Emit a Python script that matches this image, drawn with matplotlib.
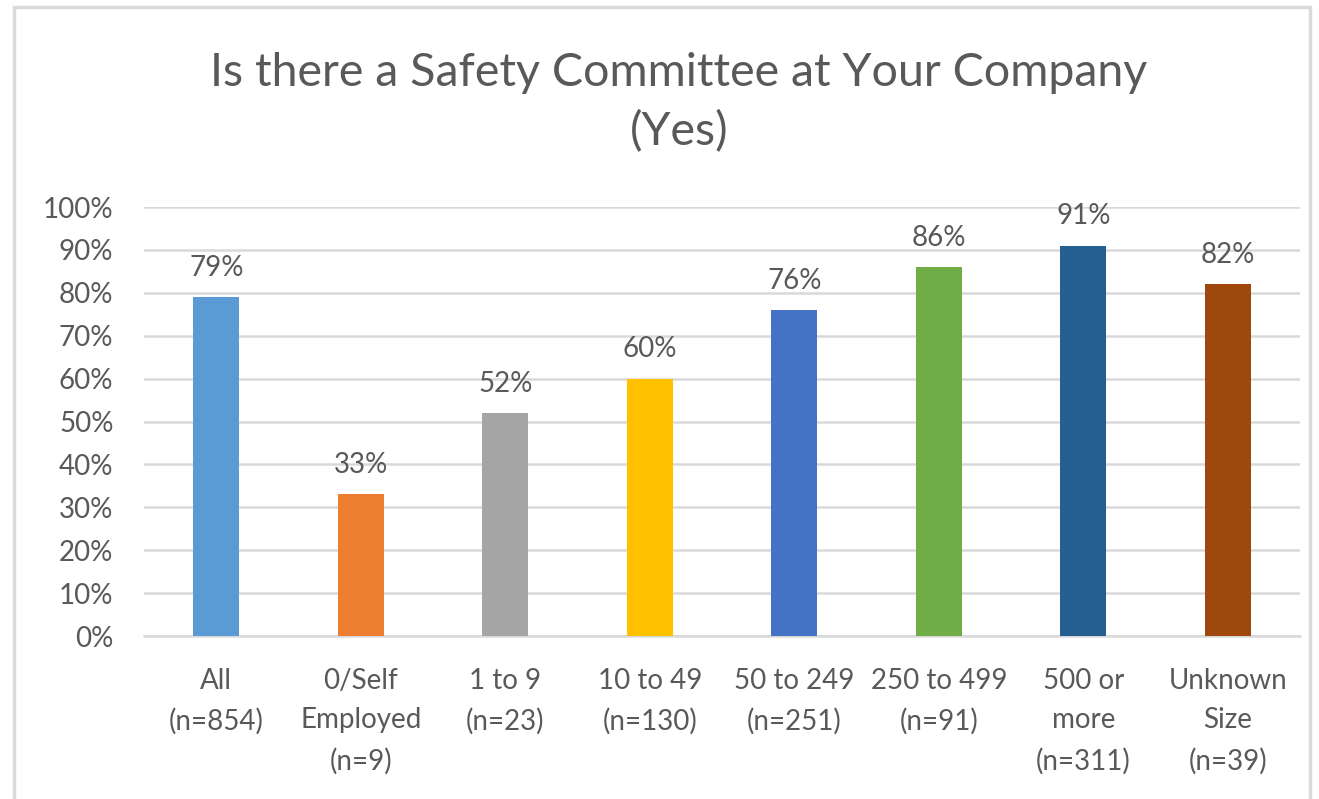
import matplotlib.pyplot as plt
from matplotlib.patches import Rectangle
from matplotlib.ticker import PercentFormatter

categories = ["All\n(n=854)", "0/Self\nEmployed\n(n=9)", "1 to 9\n(n=23)", "10 to 49\n(n=130)",
              "50 to 249\n(n=251)", "250 to 499\n(n=91)", "500 or\nmore\n(n=311)", "Unknown\nSize\n(n=39)"]
values = [79, 33, 52, 60, 76, 86, 91, 82]
colors = ["#5B9BD5", "#ED7D31", "#A5A5A5", "#FFC000", "#4472C4", "#70AD47", "#255E91", "#9E480E"]

text_color = "#595959"
grid_color = "#D9D9D9"

plt.rcParams['font.family'] = ['Lato', 'DejaVu Sans']

fig = plt.figure(figsize=(13.19, 7.99), dpi=100)
ax = fig.add_axes([0.1092, 0.204, 0.8764, 0.5369])

# chart border (bottom edge is cut off in the original)
fig.patches.append(Rectangle((14 / 1319, -0.1), (1310 - 14) / 1319, 1.1 - 7 / 799,
                             transform=fig.transFigure, fill=False,
                             edgecolor=grid_color, linewidth=2.5))

x = range(len(values))
ax.bar(x, values, width=0.32, color=colors, zorder=3)
for i, v in enumerate(values):
    ax.text(i, v + 3.8, "{}%".format(v), ha='center', va='bottom',
            fontsize=20, color=text_color)

ax.set_xlim(-0.5, len(values) - 0.5)
ax.set_ylim(0, 100)
ax.set_yticks(range(0, 101, 10))
ax.yaxis.set_major_formatter(PercentFormatter(decimals=0))
ax.set_xticks(list(x))
ax.set_xticklabels(categories, linespacing=1.64)
ax.tick_params(axis='both', length=0, labelsize=20, labelcolor=text_color)
ax.tick_params(axis='y', pad=22)
ax.tick_params(axis='x', pad=23)
ax.grid(axis='y', color=grid_color, linewidth=1.8, zorder=0)
for side in ['left', 'right', 'top']:
    ax.spines[side].set_visible(False)
ax.spines['bottom'].set_color(grid_color)
ax.spines['bottom'].set_linewidth(1.8)

fig.text(0.5148, 0.872, "Is there a Safety Committee at Your Company\n(Yes)",
         ha='center', va='center', fontsize=33.5, color=text_color, linespacing=1.47)

fig.savefig("out.png", dpi=100)
